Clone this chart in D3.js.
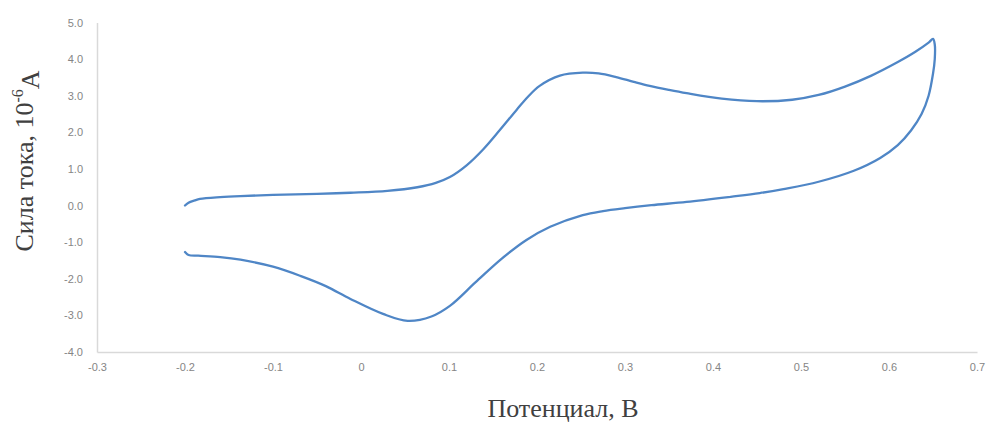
<!DOCTYPE html>
<html>
<head>
<meta charset="utf-8">
<script src="https://cdn.jsdelivr.net/npm/d3@7/dist/d3.min.js"></script>
<style>
  html, body { margin: 0; padding: 0; background: #ffffff; }
  svg { display: block; }
</style>
</head>
<body>
<svg id="chart" width="987" height="423"></svg>
<script>
// Potential (V) along the cyclic scan (forward then reverse)
const potential = [
  -0.200, -0.196, -0.189, -0.183, -0.160, -0.137, -0.100, -0.050, -0.012, 0.030,
  0.064, 0.085, 0.101, 0.120, 0.139, 0.158, 0.177, 0.190, 0.203, 0.226,
  0.252, 0.270, 0.290, 0.310, 0.328, 0.350, 0.370, 0.410, 0.450, 0.490, 0.520, 0.550,
  0.580, 0.610, 0.630, 0.645, 0.650,
  0.652, 0.652, 0.650, 0.645, 0.637, 0.625, 0.610, 0.590, 0.560, 0.520,
  0.480, 0.453, 0.420, 0.370, 0.330, 0.300, 0.275, 0.252, 0.215, 0.188, 0.160,
  0.130, 0.101, 0.080, 0.053, 0.025, -0.012, -0.040, -0.069, -0.100, -0.137,
  -0.160, -0.185, -0.196, -0.200
];
// Current (10^-6 A) at each potential
const current = [
  0.00, 0.08, 0.14, 0.18, 0.23, 0.26, 0.29, 0.32, 0.35, 0.40,
  0.50, 0.62, 0.78, 1.10, 1.54, 2.07, 2.62, 2.98, 3.27, 3.55,
  3.63, 3.61, 3.51, 3.38, 3.27, 3.16, 3.07, 2.92, 2.85, 2.89, 3.02, 3.25,
  3.55, 3.92, 4.20, 4.45, 4.55,
  4.40, 4.00, 3.60, 3.00, 2.50, 2.05, 1.65, 1.30, 0.95, 0.65,
  0.45, 0.34, 0.24, 0.10, 0.01, -0.07, -0.15, -0.26, -0.58, -0.94, -1.45,
  -2.10, -2.74, -3.03, -3.15, -2.96, -2.55, -2.20, -1.92, -1.67, -1.48,
  -1.41, -1.37, -1.35, -1.27
];
const xTickValues = [-0.3, -0.2, -0.1, 0, 0.1, 0.2, 0.3, 0.4, 0.5, 0.6, 0.7];
const xTickLabels = ["-0.3", "-0.2", "-0.1", "0", "0.1", "0.2", "0.3", "0.4", "0.5", "0.6", "0.7"];
const yTickValues = [-4, -3, -2, -1, 0, 1, 2, 3, 4, 5];
const yTickLabels = ["-4.0", "-3.0", "-2.0", "-1.0", "0.0", "1.0", "2.0", "3.0", "4.0", "5.0"];
const xTitle = "Потенциал, В";
const yTitleMain = "Сила тока, 10";
const yTitleSup = "-6";
const yTitleEnd = "A";

const svg = d3.select("#chart");
const x = d3.scaleLinear().domain([-0.3, 0.7]).range([97, 977]);
const y = d3.scaleLinear().domain([-4, 5]).range([352, 22.5]);

// Y axis
const yAxis = svg.append("g").attr("transform", "translate(97,0)")
  .call(d3.axisLeft(y).tickValues(yTickValues).tickSize(0).tickPadding(14)
    .tickFormat((d, i) => yTickLabels[i]));
yAxis.select(".domain").attr("stroke", "#d9d9d9").attr("stroke-width", 1.5);
yAxis.selectAll("text").attr("fill", "#858585").style("font-family", "'Liberation Sans', Arial, sans-serif").style("font-size", "11px");

// X axis
const xAxis = svg.append("g").attr("transform", "translate(0,352)")
  .call(d3.axisBottom(x).tickValues(xTickValues).tickSize(0).tickPadding(11)
    .tickFormat((d, i) => xTickLabels[i]));
xAxis.select(".domain").attr("stroke", "#d9d9d9").attr("stroke-width", 1.5);
xAxis.selectAll("text").attr("fill", "#858585").style("font-family", "'Liberation Sans', Arial, sans-serif").style("font-size", "11px");

// Curve
const pts = potential.map((p, i) => [p, current[i]]);
svg.append("path")
  .datum(pts)
  .attr("fill", "none")
  .attr("stroke", "#4f86c6")
  .attr("stroke-width", 2.3)
  .attr("stroke-linejoin", "round")
  .attr("stroke-linecap", "round")
  .attr("d", d3.line().x(d => x(d[0])).y(d => y(d[1])).curve(d3.curveCatmullRom.alpha(0.5)));

// Axis titles
svg.append("text")
  .attr("x", 563).attr("y", 417)
  .attr("text-anchor", "middle")
  .attr("fill", "#404040")
  .style("font-family", "'Liberation Serif', 'Times New Roman', serif")
  .style("font-size", "26px")
  .text(xTitle);

const yt = svg.append("text")
  .attr("transform", "translate(33,161) rotate(-90)")
  .attr("text-anchor", "middle")
  .attr("fill", "#404040")
  .style("font-family", "'Liberation Serif', 'Times New Roman', serif")
  .style("font-size", "26px");
yt.append("tspan").text(yTitleMain);
yt.append("tspan").attr("dy", "-0.6em").style("font-size", "16px").text(yTitleSup);
yt.append("tspan").attr("dy", "0.6em").text(yTitleEnd);
</script>
</body>
</html>
